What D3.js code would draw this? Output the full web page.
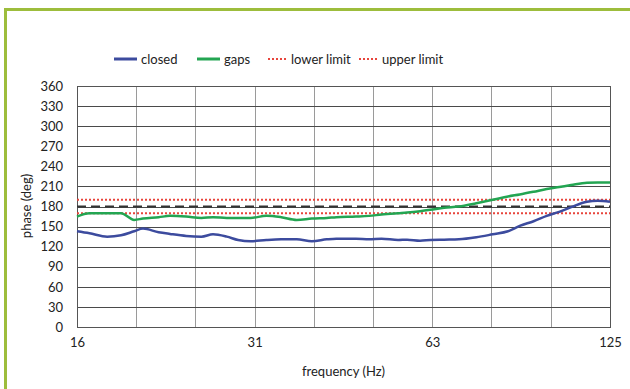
<!DOCTYPE html>
<html>
<head>
<meta charset="utf-8">
<script src="https://cdn.jsdelivr.net/npm/d3@7"></script>
<style>
  body { margin: 0; background: #fff; }
  svg text { font-family: Lato, "Open Sans", sans-serif; fill: #222; }
</style>
</head>
<body>
<div id="chart"></div>
<script>
// 1/3-octave grid, labels every octave
const bandFreqs = [16, 20.16, 25.4, 32, 40.3, 50.8, 64, 80.6, 101.6, 128];
const bandLabels = ["16", "", "", "31", "", "", "63", "", "", "125"];
const yTicks = [0, 30, 60, 90, 120, 150, 180, 210, 240, 270, 300, 330, 360];

const freq = [16, 16.8, 18, 19, 20, 20.7, 22, 23, 24.5, 26, 27.2, 28.7, 30, 31.5,
    33.5, 35.5, 37.7, 40, 42.4, 44, 47.5, 50, 52.5, 56, 58, 61, 63.5, 67, 71,
    76, 81, 86, 90, 95, 100, 105, 110, 117, 122, 128];
const closed = [143, 140, 135, 137, 143, 147, 141.5, 139, 136, 135, 138.5, 135, 130, 128,
    130, 131, 131, 128, 131, 132, 132, 131, 132, 130, 130.5, 129, 130, 130.5, 131,
    134, 138.5, 143, 151, 158, 166, 172, 179, 187, 188.5, 187];
const gaps = [165, 170, 170, 170, 160, 162, 164, 166, 165, 163, 164, 163, 163, 163,
    166, 164, 160, 162, 163, 164, 165, 166, 168, 170, 171, 173, 175, 178, 180,
    185, 190, 195, 198, 202, 206, 209, 212, 215.5, 216, 216];

const lowerLimit = 170;
const upperLimit = 190;
const target = 180;

const W = 630, H = 389;
const margin = {left: 77, right: 20, top: 86, bottom: 62};
const iw = W - margin.left - margin.right;
const ih = H - margin.top - margin.bottom;

const svg = d3.select("#chart").append("svg")
    .attr("width", W)
    .attr("height", H);

// green frame of the figure
svg.append("path")
    .attr("d", `M5.5,${H} V9.5 H${W}`)
    .attr("fill", "none")
    .attr("stroke", "#9dbd3c")
    .attr("stroke-width", 3);

const g = svg.append("g")
    .attr("transform", `translate(${margin.left},${margin.top})`);

const x = d3.scaleLog().domain([16, 128]).range([0, iw]);
const y = d3.scaleLinear().domain([0, 360]).range([ih, 0]);

// vertical grid
g.selectAll(".vgrid")
    .data(bandFreqs)
    .enter().append("line")
    .attr("class", "vgrid")
    .attr("x1", d => Math.round(x(d)) + 0.5)
    .attr("x2", d => Math.round(x(d)) + 0.5)
    .attr("y1", 0)
    .attr("y2", ih)
    .attr("stroke", "#9a9a9a")
    .attr("stroke-width", 1);

// horizontal grid
g.selectAll(".hgrid")
    .data(yTicks)
    .enter().append("line")
    .attr("class", "hgrid")
    .attr("x1", 0)
    .attr("x2", iw)
    .attr("y1", d => Math.round(y(d)) + 0.5)
    .attr("y2", d => Math.round(y(d)) + 0.5)
    .attr("stroke", "#4a4a4a")
    .attr("stroke-width", 1);

// axes (labels only)
const yAxis = g.append("g")
    .call(d3.axisLeft(y).tickValues(yTicks).tickSize(0).tickPadding(14));
yAxis.select(".domain").remove();
yAxis.selectAll("text").style("font-size", "13px");

const xAxis = g.append("g")
    .attr("transform", `translate(0,${ih})`)
    .call(d3.axisBottom(x).tickValues(bandFreqs)
        .tickFormat((d, i) => bandLabels[i]).tickSize(0).tickPadding(11));
xAxis.select(".domain").remove();
xAxis.selectAll("text").style("font-size", "13px");

// frame
g.append("rect")
    .attr("x", 0.5).attr("y", 0.5)
    .attr("width", iw).attr("height", ih)
    .attr("fill", "none")
    .attr("stroke", "#555")
    .attr("stroke-width", 1);

// reference lines
const refLine = (val, color, dash, width) => g.append("line")
    .attr("x1", 0).attr("x2", iw)
    .attr("y1", y(val)).attr("y2", y(val))
    .attr("stroke", color)
    .attr("stroke-width", width)
    .attr("stroke-dasharray", dash);

refLine(target, "#333", "9,5", 2);
refLine(lowerLimit, "#e8453c", "2,2", 2);
refLine(upperLimit, "#e8453c", "2,2", 2);

const line = d3.line()
    .x((d, i) => x(freq[i]))
    .y(d => y(d))
    .curve(d3.curveMonotoneX);

g.append("path")
    .datum(gaps)
    .attr("d", line)
    .attr("fill", "none")
    .attr("stroke", "#23a552")
    .attr("stroke-width", 2.5);

g.append("path")
    .datum(closed)
    .attr("d", line)
    .attr("fill", "none")
    .attr("stroke", "#3c4b9e")
    .attr("stroke-width", 2.5);

// axis titles
svg.append("text")
    .attr("x", margin.left + iw / 2)
    .attr("y", 376)
    .attr("text-anchor", "middle")
    .style("font-size", "13px")
    .text("frequency (Hz)");

svg.append("text")
    .attr("transform", "rotate(-90)")
    .attr("x", -206)
    .attr("y", 31)
    .attr("text-anchor", "middle")
    .style("font-size", "13px")
    .text("phase (deg)");

// legend
const legendItems = [
    {name: "closed", color: "#3c4b9e", dash: null, x: 114},
    {name: "gaps", color: "#23a552", dash: null, x: 197},
    {name: "lower limit", color: "#e8453c", dash: "2,2", x: 268},
    {name: "upper limit", color: "#e8453c", dash: "2,2", x: 359}
];

const legend = svg.append("g").attr("class", "legend");
legendItems.forEach(item => {
    const row = legend.append("g")
        .attr("transform", `translate(${item.x},59)`);
    row.append("line")
        .attr("x1", 0).attr("x2", item.dash ? 19 : 23)
        .attr("y1", 0).attr("y2", 0)
        .attr("stroke", item.color)
        .attr("stroke-width", item.dash ? 2 : 3)
        .attr("stroke-dasharray", item.dash);
    row.append("text")
        .attr("x", item.dash ? 23 : 27)
        .attr("y", 4.5)
        .style("font-size", "13px")
        .text(item.name);
});
</script>
</body>
</html>
